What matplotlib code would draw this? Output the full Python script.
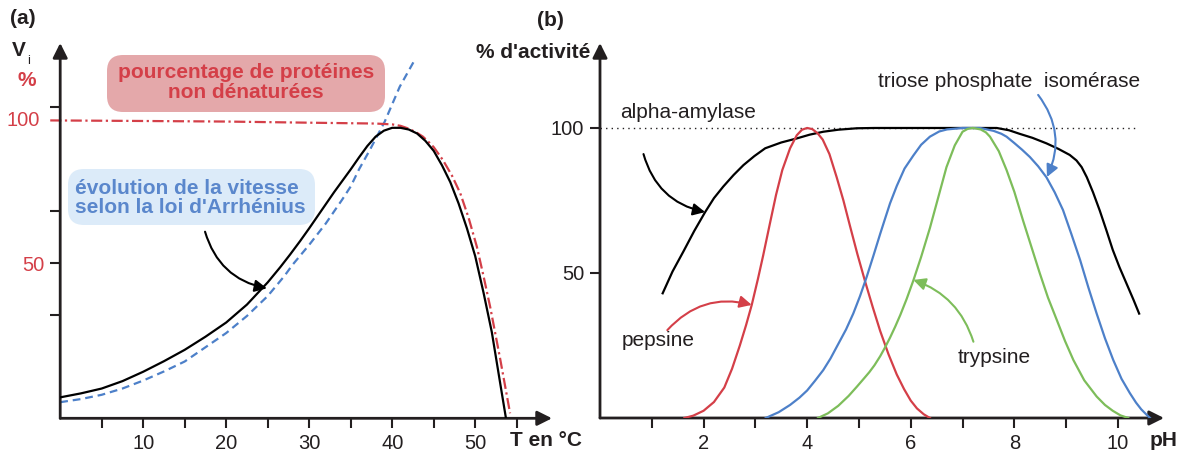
import matplotlib.pyplot as plt
from matplotlib.patches import FancyBboxPatch
from matplotlib.transforms import IdentityTransform

plt.rcParams['font.family'] = ['Liberation Sans', 'DejaVu Sans']

W, H = 1192, 455

# ---- panel (a): temperature (°C) vs rate / % non-denatured proteins ----
temp_black = [0, 2.5, 5, 7.5, 10, 12.5, 15, 17.5, 20, 22.5, 25, 26.5, 27.7, 28.9, 30,
              31.7, 33, 35, 36, 37, 38, 39, 40, 41, 42, 43, 44, 45, 46, 47, 48, 49,
              50, 51, 52, 53, 53.7]
rate_black = [2.9, 4.3, 6.0, 8.6, 11.9, 15.6, 19.6, 24.2, 29.2, 35.5, 43.3, 48.6, 53.1,
              57.8, 62.3, 69.5, 75, 83, 87.2, 91.2, 94.5, 96.6, 97.6, 97.6, 97, 95.6, 93,
              89.5, 84.4, 78.5, 71, 62.3, 52.5, 39.7, 25.8, 8, -4.4]

temp_arrh = [0, 2.5, 5, 7.5, 10, 12.5, 15, 17.5, 20, 22.5, 25, 27, 28, 30, 32, 34, 35,
             36, 37.3, 39.1, 40.9, 42.7]
rate_arrh = [1.2, 2.3, 3.8, 6.0, 8.8, 12, 15.5, 20.5, 25.5, 31.5, 38.5, 45.5, 49.5,
             56.5, 64, 72.5, 77, 83, 89.8, 99.8, 112, 121.4]

temp_prot = [-1.2, 10, 20, 30, 38, 40, 41, 42, 43, 43.7, 44.5, 45, 46.1, 47.2, 48.2,
             49.2, 50.2, 51, 51.8, 53, 54.2]
pct_prot = [100.2, 100, 99.8, 99.4, 99.1, 98.8, 98.3, 97.3, 95.8, 94.5, 92.3, 90.8,
            86.3, 80.8, 74.6, 66, 55.8, 45.5, 34.7, 16.5, -2.7]

# ---- panel (b): pH vs % activity ----
ph_pepsine = [1.63, 1.8, 2.0, 2.2, 2.4, 2.55, 2.7, 2.82, 2.93, 3.05, 3.15, 3.28, 3.4,
              3.52, 3.67, 3.8, 3.9, 4.0, 4.1, 4.2, 4.3, 4.43, 4.57, 4.7, 4.83, 4.97,
              5.12, 5.27, 5.41, 5.57, 5.73, 5.87, 6.0, 6.12, 6.25, 6.37]
act_pepsine = [0, 0.8, 2.5, 5.5, 10.5, 17, 25, 32, 39, 48, 56, 67, 77, 85.5, 93, 97.5,
               99.4, 100, 99.6, 98.2, 96, 91, 83, 75, 66, 56.5, 47, 38, 30, 22, 15, 10,
               6, 3.3, 1.3, 0]

ph_tpi = [3.2, 3.45, 3.67, 3.85, 4.0, 4.15, 4.31, 4.45, 4.6, 4.75, 4.89, 5.02, 5.15,
          5.28, 5.41, 5.5, 5.6, 5.73, 5.88, 6.05, 6.2, 6.37, 6.55, 6.7, 7.0, 7.34, 7.6,
          7.75, 7.85, 8.0, 8.15, 8.3, 8.46, 8.62, 8.78, 8.94, 9.1, 9.27, 9.43, 9.59,
          9.75, 9.91, 10.07, 10.23, 10.35, 10.45, 10.55, 10.62]
act_tpi = [0, 2, 4.5, 7, 9.5, 12.8, 16.5, 20.5, 25.5, 30.5, 36, 42, 48.7, 56, 63.5,
           68.5, 74, 80, 86, 90.5, 94.2, 97, 98.8, 99.5, 100, 100, 99, 98, 97, 94.8,
           92.5, 90, 86.8, 83, 77.8, 71.7, 63.5, 54.5, 45, 36, 27.5, 20, 13.5, 8.6, 5.3,
           3, 1.2, 0]

ph_trypsine = [4.21, 4.4, 4.6, 4.8, 4.96, 5.1, 5.2, 5.3, 5.41, 5.5, 5.6, 5.7, 5.8, 5.92,
               6.05, 6.2, 6.37, 6.53, 6.69, 6.85, 7.0, 7.1, 7.2, 7.35, 7.45, 7.53, 7.7,
               7.85, 8.0, 8.17, 8.33, 8.49, 8.65, 8.82, 8.98, 9.14, 9.35, 9.59, 9.75,
               9.9, 10.05, 10.2]
act_trypsine = [0, 1.6, 4.2, 7.6, 10.8, 13.7, 15.8, 18.2, 21.3, 24.2, 27.7, 31.5, 35.6,
                41, 47.4, 55.5, 65.5, 76, 86.5, 94, 98.7, 99.7, 100, 99.5, 98.5, 97, 92,
                85.5, 78, 68, 59, 50, 41.5, 33.8, 26.5, 20, 13, 7.4, 4.5, 2.5, 0.9, 0]

ph_amylase = [1.21, 1.4, 1.61, 1.82, 2.03, 2.2, 2.38, 2.58, 2.77, 2.98, 3.19, 3.5, 3.8,
              4.05, 4.31, 4.6, 4.96, 5.3, 7.66, 7.9, 8.1, 8.35, 8.62, 8.85, 9.07, 9.2,
              9.3, 9.4, 9.52, 9.65, 9.78, 9.9, 10.03, 10.17, 10.3, 10.41]
act_amylase = [43, 50.5, 57.4, 64.5, 71, 75.8, 79.8, 83.8, 87.2, 90.3, 93, 95, 96.4,
               97.7, 98.7, 99.4, 99.9, 100, 100, 99.2, 98, 96.6, 94.7, 92.8, 90.7, 88.8,
               86.5, 83, 77.8, 71.5, 64.6, 58, 52, 46.2, 40.8, 36]

RED = '#D43F48'
BLUE = '#4D80C9'
GREEN = '#7DBD5A'
INK = '#231F20'
FS = 15

fig = plt.figure(figsize=(W / 100, H / 100), dpi=100)


def px(x, y):
    return x / W, 1 - y / H


def add_axes_px(x0, y0, x1, y1):
    return fig.add_axes([x0 / W, 1 - y1 / H, (x1 - x0) / W, (y1 - y0) / H])


def style_axes(ax):
    for s in ax.spines.values():
        s.set_visible(False)
    ax.patch.set_alpha(0)
    ax.tick_params(direction='out', length=7.5, width=1.5, color=INK,
                   labelsize=14.5, labelcolor=INK, pad=4)
    arrow = dict(arrowstyle='-|>', color=INK, lw=2, shrinkA=0, shrinkB=0,
                 mutation_scale=22)
    ax.annotate('', xy=(1, 0), xytext=(0, 0), xycoords='axes fraction',
                arrowprops=arrow, annotation_clip=False)
    ax.annotate('', xy=(0, 1), xytext=(0, 0), xycoords='axes fraction',
                arrowprops=arrow, annotation_clip=False)


# ---------------- panel (a) ----------------
ax1 = add_axes_px(60.2, 43, 552, 418.3)
ax1.set_xlim(0, 59.25)
ax1.set_ylim(-4.46, 127.4)
style_axes(ax1)

ax1.plot(temp_black, rate_black, color='black', lw=1.6, zorder=3)
ax1.plot(temp_arrh, rate_arrh, color=BLUE, lw=1.6, ls=(0, (3.5, 2.2)), zorder=2)
ax1.plot(temp_prot, pct_prot, color=RED, lw=1.6, ls=(0, (5, 1.6, 1, 1.6)),
         clip_on=False, zorder=2)

ax1.set_xticks(range(5, 60, 5))
ax1.set_xticklabels([str(t) if t % 10 == 0 else '' for t in range(5, 60, 5)])
ax1.set_yticks([31.8, 50, 68.5, 105])
ax1.set_yticklabels(['', '50', '', ''])
for lab in ax1.get_yticklabels():
    lab.set_color(RED)
ax1.text(-2.5, 100, '100', color=RED, fontsize=14.5, ha='right', va='center')

ax1.annotate('', xy=(24.9, 41.2), xytext=(17.45, 61.1),
             arrowprops=dict(arrowstyle='-|>', color='black', lw=1.5,
                             connectionstyle='arc3,rad=0.3', shrinkA=0, shrinkB=0,
                             mutation_scale=18))

fig.add_artist(FancyBboxPatch((107, H - 112), 278, 57,
                              boxstyle='round,pad=0,rounding_size=16',
                              transform=IdentityTransform(), fc='#E4A8AA', ec='none'))
fig.text(*px(246, 72), 'pourcentage de protéines', color=RED, fontsize=FS,
         fontweight='bold', ha='center', va='center')
fig.text(*px(246, 93), 'non dénaturées', color=RED, fontsize=FS,
         fontweight='bold', ha='center', va='center')

fig.add_artist(FancyBboxPatch((68, H - 225), 247, 56,
                              boxstyle='round,pad=0,rounding_size=16',
                              transform=IdentityTransform(), fc='#DCEBF9', ec='none'))
fig.text(*px(75, 188), 'évolution de la vitesse', color='#5A87CC', fontsize=FS,
         fontweight='bold', ha='left', va='center')
fig.text(*px(75, 208), "selon la loi d'Arrhénius", color='#5A87CC', fontsize=FS,
         fontweight='bold', ha='left', va='center')

fig.text(*px(10, 19), '(a)', fontsize=FS, fontweight='bold', color=INK, va='center')
fig.text(*px(12, 51), 'V', fontsize=FS, fontweight='bold', color=INK, va='center')
fig.text(*px(27, 61), 'i', fontsize=9, color=INK, va='center')
fig.text(*px(17, 80), '%', fontsize=FS, fontweight='bold', color=RED, va='center')
fig.text(*px(510, 440), 'T en °C', fontsize=FS, fontweight='bold', color=INK,
         va='center')

# ---------------- panel (b) ----------------
ax2 = add_axes_px(600, 43, 1164, 418)
ax2.set_xlim(0, 10.89)
ax2.set_ylim(0, 129.3)
style_axes(ax2)

ax2.plot([0, 10.39], [100, 100], color=INK, lw=1, ls=(0, (1, 3)), zorder=1)
ax2.plot(ph_amylase, act_amylase, color='black', lw=1.6, zorder=3)
ax2.plot(ph_pepsine, act_pepsine, color=RED, lw=1.6, zorder=3)
ax2.plot(ph_tpi, act_tpi, color=BLUE, lw=1.6, zorder=3)
ax2.plot(ph_trypsine, act_trypsine, color=GREEN, lw=1.6, zorder=3)

ax2.set_xticks(range(1, 11))
ax2.set_xticklabels([str(p) if p % 2 == 0 else '' for p in range(1, 11)])
ax2.set_yticks([50, 100])

arc = dict(lw=1.5, shrinkA=0, shrinkB=0, mutation_scale=18, arrowstyle='-|>')
ax2.annotate('', xy=(2.03, 71), xytext=(0.84, 91),
             arrowprops=dict(color='black', connectionstyle='arc3,rad=0.3', **arc))
ax2.annotate('', xy=(2.93, 39), xytext=(1.3, 30.3),
             arrowprops=dict(color=RED, connectionstyle='arc3,rad=-0.3', **arc))
ax2.annotate('', xy=(8.63, 83.1), xytext=(8.46, 111.4),
             arrowprops=dict(color=BLUE, connectionstyle='arc3,rad=-0.3', **arc))
ax2.annotate('', xy=(6.05, 47.6), xytext=(7.21, 26.3),
             arrowprops=dict(color=GREEN, connectionstyle='arc3,rad=0.25', **arc))

ax2.text(0.386, 105.5, 'alpha-amylase', fontsize=FS, color=INK, va='center')
ax2.text(0.42, 26.6, 'pepsine', fontsize=FS, color=INK, va='center')
ax2.text(6.91, 20.7, 'trypsine', fontsize=FS, color=INK, va='center')
ax2.text(5.37, 115.9, 'triose phosphate  isomérase', fontsize=FS, color=INK,
         va='center')

fig.text(*px(537, 20), '(b)', fontsize=FS, fontweight='bold', color=INK, va='center')
fig.text(*px(590, 53), "% d'activité", fontsize=FS, fontweight='bold', color=INK,
         ha='right', va='center')
fig.text(*px(1150, 440), 'pH', fontsize=FS, fontweight='bold', color=INK, va='center')

fig.savefig('out.png', dpi=100)
